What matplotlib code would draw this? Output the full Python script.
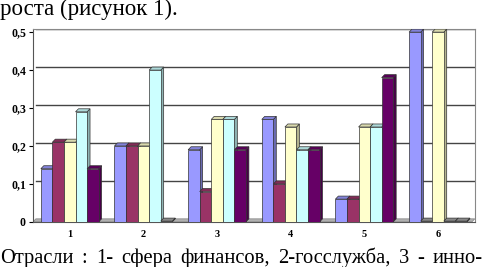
import numpy as np
import matplotlib.pyplot as plt
from matplotlib.patches import Polygon
from matplotlib.colors import to_rgb

# Categories (sectors) and the five series per sector
categories = ["1", "2", "3", "4", "5", "6"]
s1 = [0.14, 0.20, 0.19, 0.27, 0.06, 0.50]
s2 = [0.21, 0.20, 0.08, 0.10, 0.06, 0.00]
s3 = [0.21, 0.20, 0.27, 0.25, 0.25, 0.50]
s4 = [0.29, 0.40, 0.27, 0.19, 0.25, 0.00]
s5 = [0.14, 0.00, 0.19, 0.19, 0.38, 0.00]
yticks = [0, 0.1, 0.2, 0.3, 0.4, 0.5]
ytick_labels = ["0", "0,1", "0,2", "0,3", "0,4", "0,5"]

series = [s1, s2, s3, s4, s5]
colors = ["#9999ff", "#993366", "#ffffcc", "#ccffff", "#660066"]


def shade(c, f):
    r, g, b = to_rgb(c)
    return (r * f, g * f, b * f)


fig = plt.figure(figsize=(4.84, 2.67), dpi=100)
ax = fig.add_axes([0.068, 0.169, 0.913, 0.722])

x = np.arange(len(categories))
w = 0.157
dx = 0.04     # depth of the fake 3D in x (data units)
dy = 0.008    # depth of the fake 3D in y (data units)

# back wall gridlines
for t in yticks[1:]:
    ax.plot([-0.5 + dx, 5.5], [t + dy, t + dy], color="#444444", lw=1.0, zorder=1)

# floor
floor = Polygon([[-0.5, 0], [5.5 - dx, 0], [5.5, dy], [-0.5 + dx, dy]],
                closed=True, facecolor="#b0b0b0", edgecolor="#808080", lw=0.5, zorder=2)
ax.add_patch(floor)

z = 3
for i in range(len(categories)):
    for j, s in enumerate(series):
        v = s[i]
        left = x[i] - 2.5 * w + j * w
        right = left + w
        h = max(v, 0.002)
        c = colors[j] if v > 0 else "#a0a0a0"
        front = Polygon([[left, 0], [right, 0], [right, h], [left, h]],
                        facecolor=c, edgecolor="#333333", lw=0.5, zorder=z)
        side = Polygon([[right, 0], [right + dx, dy], [right + dx, h + dy], [right, h]],
                       facecolor=shade(c, 0.7), edgecolor="#333333", lw=0.5, zorder=z)
        top = Polygon([[left, h], [right, h], [right + dx, h + dy], [left + dx, h + dy]],
                      facecolor=shade(c, 0.85), edgecolor="#333333", lw=0.5, zorder=z)
        for p in (side, top, front):
            ax.add_patch(p)
        z += 1

ax.set_xlim(-0.5, 5.5)
ax.set_ylim(0, 0.5 + dy)
ax.set_xticks(x)
ax.set_xticklabels(categories, fontfamily="Liberation Serif", fontsize=7.5, fontweight="bold")
ax.set_yticks(yticks)
ax.set_yticklabels(ytick_labels, fontfamily="Liberation Serif", fontsize=8.5, fontweight="bold")
ax.tick_params(axis="x", length=0, pad=6)
ax.tick_params(axis="y", length=3, pad=2)
for sp in ["top", "right"]:
    ax.spines[sp].set_color("#888888")
ax.spines["left"].set_color("#555555")
ax.spines["bottom"].set_color("#555555")

fig.text(0.0, 0.944, "роста (рисунок 1).", fontfamily="Liberation Serif",
         fontsize=16.5, va="baseline", ha="left")

# justified caption line below the chart
words = ["Отрасли", ":", "1-", "сфера", "финансов,", "2-госслужба,", "3", "-", "инно-"]
fig.canvas.draw()
renderer = fig.canvas.get_renderer()
items = []
for wd in words:
    t = fig.text(0, 0.016, wd, fontfamily="Liberation Serif", fontsize=14.8,
                 va="baseline", ha="left")
    items.append(t)
widths = [t.get_window_extent(renderer).width for t in items]
fig_w = fig.get_figwidth() * fig.dpi
gap = (fig_w - 1 - sum(widths)) / (len(words) - 1)
pos = 0.0
for t, wdt in zip(items, widths):
    t.set_x(pos / fig_w)
    pos += wdt + gap

fig.savefig("out.png", dpi=100)
